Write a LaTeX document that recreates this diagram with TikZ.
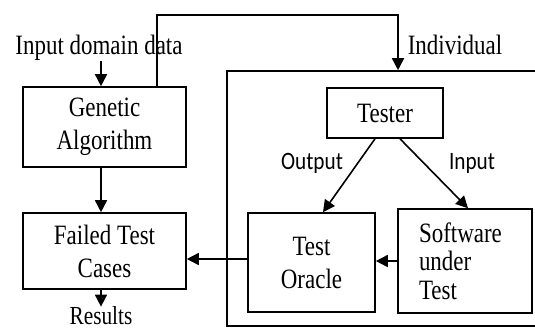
\documentclass[tikz,border=0pt]{standalone}
\usepackage{fontspec}
\setmainfont{Liberation Serif}[FakeStretch=0.82]
\newfontfamily\lblfont{Carlito}[FakeStretch=0.85]
\usetikzlibrary{arrows.meta,calc}
\begin{document}
\begin{tikzpicture}[x=1pt,y=-1pt,
  box/.style={draw,line width=1.6pt,inner sep=0pt,align=center,font=\fontsize{28}{33}\selectfont},
  txt/.style={inner sep=0pt,font=\fontsize{28}{33}\selectfont},
  lbl/.style={inner sep=0pt,font=\lblfont\fontsize{25}{30}\selectfont},
  arr/.style={line width=1.6pt,-{Triangle[length=12pt,width=12pt]}},
  ln/.style={line width=1.6pt}]
\useasboundingbox (0,0) rectangle (535,332);
% big environment box (right edge lies outside the picture)
\node[draw,line width=1.6pt,minimum width=318pt,minimum height=255pt,inner sep=0pt] (env) at (386,198.5) {};
\node[box,minimum width=163pt,minimum height=80pt] (ga) at (104.5,127) {Genetic\\Algorithm};
\node[box,minimum width=163pt,minimum height=76pt] (ftc) at (104.5,251) {Failed Test\\Cases};
\node[box,minimum width=116pt,minimum height=50pt] (tester) at (385,113) {Tester};
\node[box,minimum width=127pt,minimum height=99pt] (to) at (311.5,262.5) {Test\\Oracle};
\node[box,minimum width=134pt,minimum height=104pt,text width=92pt,inner xsep=21pt,align=left,font=\fontsize{28}{28.5}\selectfont] (sw) at (465,261) {Software\\under\\Test};
\node[txt] (idd) at (99,48) {Input domain data};
\node[txt] (ind) at (455,45) {Individual};
\node[txt,font=\fontsize{26}{30}\selectfont] (res) at (101,316) {Results};
\node[lbl] (out) at (312,163) {Output};
\node[lbl] (inp) at (472,163) {Input};
\coordinate (col) at (101,0);
\coordinate (c1) at (157,15);
\coordinate (c2) at (398,15);
% connectors
\draw[arr] (idd.south -| col) -- (ga.north -| col);
\draw[arr] (ga.south -| col) -- (ftc.north -| col);
\draw[arr] (ftc.south -| col) -- (res.north -| col);
\draw[arr] (ga.north -| c1) -- (c1) -- (c2) -- (c2 |- env.north);
\draw[arr] ($(tester.south)+(-10,0)$) -- ($(to.north)+(11.5,0)$);
\draw[arr] ($(tester.south)+(15,0)$) -- ($(sw.north)+(3,0)$);
\draw[arr] ([yshift=3.5pt]to.west) -- ([yshift=3.5pt]to.west -| ftc.east);
\draw[arr] (sw.west) -- (sw.west -| to.east);
\end{tikzpicture}
\end{document}
